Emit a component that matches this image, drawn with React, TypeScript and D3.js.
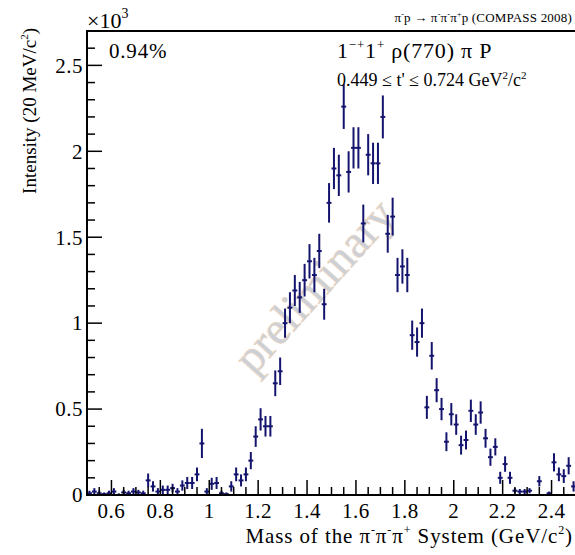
import React from "react";
import * as d3 from "d3";

// bin centres (GeV/c^2), 20 MeV bins from 0.5 to 2.5
const masses: number[] = [
  0.51, 0.53, 0.55, 0.57, 0.59, 0.61, 0.63, 0.65, 0.67, 0.69,
  0.71, 0.73, 0.75, 0.77, 0.79, 0.81, 0.83, 0.85, 0.87, 0.89,
  0.91, 0.93, 0.95, 0.97, 0.99, 1.01, 1.03, 1.05, 1.07, 1.09,
  1.11, 1.13, 1.15, 1.17, 1.19, 1.21, 1.23, 1.25, 1.27, 1.29,
  1.31, 1.33, 1.35, 1.37, 1.39, 1.41, 1.43, 1.45, 1.47, 1.49,
  1.51, 1.53, 1.55, 1.57, 1.59, 1.61, 1.63, 1.65, 1.67, 1.69,
  1.71, 1.73, 1.75, 1.77, 1.79, 1.81, 1.83, 1.85, 1.87, 1.89,
  1.91, 1.93, 1.95, 1.97, 1.99, 2.01, 2.03, 2.05, 2.07, 2.09,
  2.11, 2.13, 2.15, 2.17, 2.19, 2.21, 2.23, 2.25, 2.27, 2.29,
  2.31, 2.33, 2.35, 2.37, 2.39, 2.41, 2.43, 2.45, 2.47, 2.49,
];

// intensity (x10^3)
const intensity: number[] = [
  0.01, 0.02, 0.01, 0.005, 0.01, 0.02, 0.0, 0.015, 0.01, 0.02,
  0.015, 0.01, 0.085, 0.05, 0.02, 0.03, 0.03, 0.04, 0.02, 0.055,
  0.07, 0.07, 0.12, 0.30, 0.02, 0.065, 0.07, 0.01, 0.005, 0.05,
  0.12, 0.085, 0.12, 0.20, 0.34, 0.44, 0.40, 0.40, 0.65, 0.72,
  1.00, 1.09, 1.19, 1.15, 1.25, 1.36, 1.28, 1.42, 1.11, 1.70,
  1.90, 1.86, 2.26, 1.88, 2.02, 2.02, 1.58, 1.98, 1.93, 1.93,
  2.20, 1.52, 1.62, 1.28, 1.33, 1.28, 0.93, 0.89, 1.00, 0.51,
  0.81, 0.61, 0.50, 0.31, 0.47, 0.41, 0.29, 0.32, 0.49, 0.41,
  0.48, 0.33, 0.22, 0.28, 0.10, 0.18, 0.10, 0.025, 0.02, 0.02,
  0.025, 0.0, 0.08, 0.0, 0.01, 0.19, 0.12, 0.11, 0.17, 0.05,
];

// statistical errors (x10^3)
const errors: number[] = [
  0.015, 0.02, 0.015, 0.01, 0.015, 0.02, 0.01, 0.015, 0.015, 0.02,
  0.015, 0.015, 0.04, 0.03, 0.02, 0.025, 0.025, 0.025, 0.02, 0.03,
  0.035, 0.035, 0.04, 0.085, 0.02, 0.035, 0.035, 0.015, 0.01, 0.03,
  0.04, 0.035, 0.04, 0.05, 0.06, 0.065, 0.06, 0.06, 0.075, 0.08,
  0.085, 0.09, 0.09, 0.09, 0.095, 0.1, 0.1, 0.1, 0.09, 0.115,
  0.12, 0.12, 0.13, 0.12, 0.12, 0.12, 0.11, 0.12, 0.12, 0.12,
  0.125, 0.11, 0.11, 0.1, 0.1, 0.1, 0.085, 0.085, 0.085, 0.067,
  0.08, 0.07, 0.065, 0.055, 0.065, 0.06, 0.055, 0.055, 0.065, 0.06,
  0.065, 0.055, 0.05, 0.05, 0.035, 0.045, 0.035, 0.015, 0.015, 0.015,
  0.015, 0.005, 0.03, 0.005, 0.01, 0.053, 0.04, 0.04, 0.05, 0.03,
];

const binHalfWidth = 0.01;
const xTickLabels: number[] = [0.6, 0.8, 1.0, 1.2, 1.4, 1.6, 1.8, 2.0, 2.2, 2.4];
const yTickLabels: number[] = [0, 0.5, 1, 1.5, 2, 2.5];

const W = 575;
const H = 555;
const FONT = "'Liberation Serif', 'Times New Roman', serif";
const INK = "#14146e";

export default function App() {
  const x = d3.scaleLinear().domain([0.5, 2.5]).range([87, 576]);
  const y = d3.scaleLinear().domain([0, 2.7]).range([495, 31]);

  const xMinor = d3.range(0, 41).map((k) => 0.5 + k * 0.05);
  const yMinor = d3.range(0, 28).map((k) => k * 0.1);

  const fmtX = (v: number) => (Math.abs(v - 1) < 1e-9 ? "1" : Math.abs(v - 2) < 1e-9 ? "2" : d3.format(".1f")(v));
  const fmtY = (v: number) => (Number.isInteger(v) ? String(v) : d3.format(".1f")(v));

  return (
    <svg width={W} height={H} style={{ position: "absolute", left: 0, top: 0, background: "#fff" }} fontFamily={FONT}>
      {/* watermark */}
      <text
        x={0}
        y={0}
        transform={`translate(314,286) rotate(-48)`}
        textAnchor="middle"
        dominantBaseline="central"
        fontSize={46}
        fill="#c9d0da"
        stroke="#e9d5c0"
        strokeWidth={0.8}
      >
        preliminary
      </text>

      {/* data points */}
      <g stroke={INK} strokeWidth={2}>
        {masses.map((m, i) => {
          const v = intensity[i];
          const e = errors[i];
          const cx = x(m);
          const cy = y(v);
          const top = y(Math.min(v + e, 2.7));
          const bot = y(Math.max(v - e, 0));
          return (
            <g key={i}>
              <line x1={cx} x2={cx} y1={top} y2={bot} />
              <line x1={x(m - binHalfWidth)} x2={x(m + binHalfWidth)} y1={cy} y2={cy} />
            </g>
          );
        })}
      </g>

      {/* frame */}
      <g stroke="#000" strokeWidth={2} fill="none">
        <line x1={87} x2={576} y1={31} y2={31} />
        <line x1={87} x2={87} y1={30} y2={496} />
        <line x1={86} x2={576} y1={495} y2={495} />
      </g>

      {/* x ticks */}
      <g stroke="#000" strokeWidth={1.5}>
        {xMinor.map((v, k) => {
          const major = xTickLabels.some((t) => Math.abs(t - v) < 1e-6);
          return <line key={k} x1={x(v)} x2={x(v)} y1={495} y2={495 - (major ? 15 : 8)} />;
        })}
      </g>
      <g fontSize={21} textAnchor="middle" fill="#000" letterSpacing={0.5}>
        {xTickLabels.map((v) => (
          <text key={v} x={x(v)} y={518}>
            {fmtX(v)}
          </text>
        ))}
      </g>

      {/* y ticks */}
      <g stroke="#000" strokeWidth={1.5}>
        {yMinor.map((v, k) => {
          const major = yTickLabels.some((t) => Math.abs(t - v) < 1e-6);
          return <line key={k} x1={87} x2={87 + (major ? 15 : 8)} y1={y(v)} y2={y(v)} />;
        })}
      </g>
      <g fontSize={21} textAnchor="end" fill="#000" letterSpacing={0.5}>
        {yTickLabels.map((v) => (
          <text key={v} x={83} y={y(v)} dy="0.35em">
            {fmtY(v)}
          </text>
        ))}
      </g>

      {/* exponent */}
      <text x={87} y={28} fontSize={22} fill="#000">
        ×10
        <tspan fontSize={14} dy={-10}>
          3
        </tspan>
      </text>

      {/* axis titles */}
      <text x={573} y={543} fontSize={21} textAnchor="end" fill="#000" letterSpacing={0.9}>
        Mass of the π
        <tspan fontSize={12} dy={-9}>-</tspan>
        <tspan dy={9}>π</tspan>
        <tspan fontSize={12} dy={-9}>-</tspan>
        <tspan dy={9}>π</tspan>
        <tspan fontSize={12} dy={-9}>+</tspan>
        <tspan dy={9}> System (GeV/c</tspan>
        <tspan fontSize={12} dy={-9}>2</tspan>
        <tspan dy={9}>)</tspan>
      </text>
      <text transform="translate(36,28) rotate(-90)" fontSize={19} textAnchor="end" fill="#000">
        Intensity (20 MeV/c
        <tspan fontSize={11} dy={-8}>2</tspan>
        <tspan dy={8}>)</tspan>
      </text>

      {/* annotations */}
      <text x={109} y={58} fontSize={21} fill="#000" letterSpacing={0.8}>
        0.94%
      </text>
      <text x={337} y={58} fontSize={22} fill="#000" letterSpacing={0.8}>
        1
        <tspan fontSize={13} dy={-9}>−+</tspan>
        <tspan dy={9}>1</tspan>
        <tspan fontSize={13} dy={-9}>+</tspan>
        <tspan dy={9}> ρ(770) π P</tspan>
      </text>
      <text x={337} y={86} fontSize={18} fill="#000">
        0.449 ≤ t' ≤ 0.724 GeV
        <tspan fontSize={11} dy={-7}>2</tspan>
        <tspan dy={7}>/c</tspan>
        <tspan fontSize={11} dy={-7}>2</tspan>
      </text>
      <text x={572} y={22} fontSize={13} textAnchor="end" fill="#000" letterSpacing={0.2}>
        π
        <tspan fontSize={8} dy={-5}>-</tspan>
        <tspan dy={5}>p → π</tspan>
        <tspan fontSize={8} dy={-5}>-</tspan>
        <tspan dy={5}>π</tspan>
        <tspan fontSize={8} dy={-5}>-</tspan>
        <tspan dy={5}>π</tspan>
        <tspan fontSize={8} dy={-5}>+</tspan>
        <tspan dy={5}>p (COMPASS 2008)</tspan>
      </text>
    </svg>
  );
}
